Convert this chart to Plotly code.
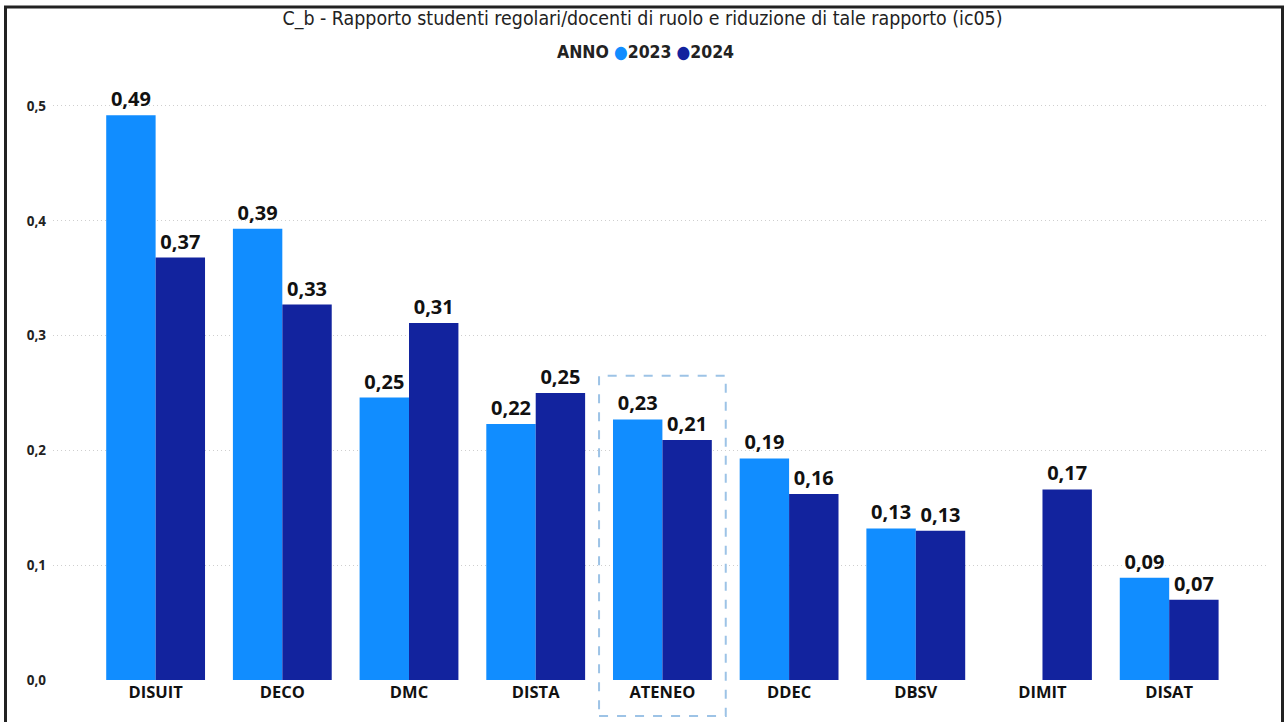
import plotly.graph_objects as go

categories = ["DISUIT", "DECO", "DMC", "DISTA", "ATENEO", "DDEC", "DBSV", "DIMIT", "DISAT"]
values_2023 = [0.492, 0.393, 0.246, 0.223, 0.227, 0.193, 0.132, None, 0.089]
values_2024 = [0.368, 0.327, 0.311, 0.250, 0.209, 0.162, 0.130, 0.166, 0.070]
y_ticks = [0.0, 0.1, 0.2, 0.3, 0.4, 0.5]
series_names = ["2023", "2024"]

title_text = "C_b - Rapporto studenti regolari/docenti di ruolo e riduzione di tale rapporto (ic05)"
col_2023 = "#118DFF"
col_2024 = "#12239E"

W, H = 1285, 722
L, R, T, B = 53, 17, 83, 42
x_range = [-0.81, 8.78]
y_range = [0, 0.52]
pw, ph = W - L - R, H - T - B

def px_x(p):
    return (p - L) / pw

def px_y(p):
    return (H - B - p) / ph

def data_x(v):
    return (v - x_range[0]) / (x_range[1] - x_range[0])

def data_y(v):
    return (v - y_range[0]) / (y_range[1] - y_range[0])

label_font = dict(family="Open Sans", size=20, color="#111111", weight="bold")

fig = go.Figure()
for name, vals, col in [(series_names[0], values_2023, col_2023), (series_names[1], values_2024, col_2024)]:
    fig.add_trace(go.Bar(
        x=list(range(len(categories))), y=vals, name=name, marker=dict(color=col, line=dict(width=0)),
        text=[None if v is None else f"{v:.2f}".replace(".", ",") for v in vals],
        textposition="outside", textfont=label_font, cliponaxis=False,
        showlegend=False, hoverinfo="y",
    ))

# legend as text line
legend_text = ("<b>ANNO</b> <span style='color:%s'>●</span><b>%s</b> <span style='color:%s'>●</span><b>%s</b>"
               % (col_2023, series_names[0], col_2024, series_names[1]))
fig.add_annotation(text=legend_text, xref="paper", yref="paper", x=px_x(645), y=px_y(52),
                   xanchor="center", yanchor="middle", showarrow=False,
                   font=dict(family="DejaVu Sans Condensed", size=17.5, color="#222222"))

hl = categories.index("ATENEO")
fig.add_shape(type="rect", xref="paper", yref="paper",
              x0=data_x(hl - 0.5), x1=data_x(hl + 0.5),
              y0=px_y(716), y1=data_y(0.265),
              line=dict(color="#9DC3E6", width=2, dash="dash"), fillcolor="rgba(0,0,0,0)")

# outer frame
fig.add_shape(type="rect", xref="paper", yref="paper",
              x0=px_x(5.5), x1=px_x(1282.5), y0=px_y(740), y1=px_y(7),
              line=dict(color="#222222", width=3), fillcolor="rgba(0,0,0,0)")

fig.update_layout(
    width=W, height=H,
    margin=dict(l=L, r=R, t=T, b=B),
    paper_bgcolor="white", plot_bgcolor="white",
    separators=",.",
    barmode="group", bargap=0.22, bargroupgap=0,
    showlegend=False,
    title=dict(text=title_text, x=0.5, xanchor="center", y=1 - 18 / H, yanchor="middle",
               font=dict(family="DejaVu Sans Condensed", size=19.4, color="#222222")),
    xaxis=dict(range=x_range, tickmode="array", tickvals=list(range(len(categories))),
               ticktext=categories, showgrid=False, zeroline=False, showline=False,
               tickfont=dict(family="Open Sans", size=16.5, color="#111111", weight="bold"),
               ticks="", ticklabelstandoff=0),
    yaxis=dict(range=y_range, tickmode="array", tickvals=y_ticks, tickformat=".1f",
               showgrid=True, gridcolor="#CFCFCF", griddash="1px,3px", gridwidth=1,
               zeroline=False, showline=False, ticks="", ticklabelstandoff=6,
               tickfont=dict(family="Open Sans", size=13.5, color="#222222", weight="bold")),
)

fig.write_html("out.html", config={"displayModeBar": False},
               post_script="document.body.style.margin='0';document.body.style.padding='0';")
